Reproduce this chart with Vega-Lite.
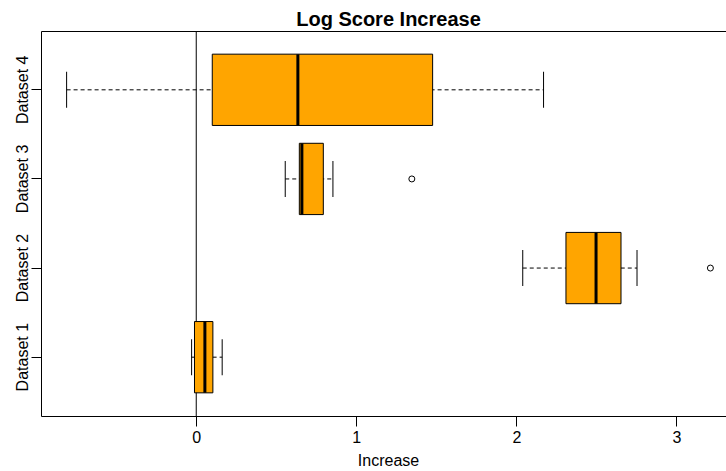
{
  "$schema": "https://vega.github.io/schema/vega-lite/v6.json",
  "width": 685,
  "height": 385,
  "autosize": {"type": "none"},
  "padding": {"left": 41, "top": 31, "right": 0, "bottom": 55},
  "background": "white",
  "title": {
    "text": "Log Score Increase",
    "font": "Liberation Sans",
    "fontSize": 20,
    "fontWeight": "bold",
    "color": "black",
    "anchor": "middle",
    "baseline": "alphabetic",
    "dx": 5,
    "dy": 20,
    "offset": 5
  },
  "datasets": {
    "boxes": [
      {"dataset": "Dataset 1", "lower": -0.029, "q1": -0.011, "median": 0.054, "q3": 0.104, "upper": 0.162},
      {"dataset": "Dataset 2", "lower": 2.04, "q1": 2.31, "median": 2.498, "q3": 2.654, "upper": 2.754},
      {"dataset": "Dataset 3", "lower": 0.556, "q1": 0.644, "median": 0.66, "q3": 0.794, "upper": 0.854},
      {"dataset": "Dataset 4", "lower": -0.81, "q1": 0.1, "median": 0.635, "q3": 1.477, "upper": 2.17}
    ],
    "outliers": [
      {"dataset": "Dataset 2", "value": 3.2125},
      {"dataset": "Dataset 3", "value": 1.347}
    ],
    "reference": [{"ref": 0}]
  },
  "layer": [
    {
      "data": {"name": "reference"},
      "mark": {"type": "rule", "color": "black", "strokeWidth": 1},
      "encoding": {
        "x": {
          "field": "ref",
          "type": "quantitative",
          "scale": {"domain": [-0.97, 3.31], "nice": false, "zero": false},
          "axis": {"orient": "top", "labels": false, "ticks": false, "domain": true, "domainColor": "black", "domainWidth": 1, "title": null, "grid": false}
        }
      }
    },
    {
      "data": {"name": "boxes"},
      "mark": {"type": "rule", "color": "black", "strokeWidth": 1, "strokeDash": [4, 3]},
      "encoding": {
        "y": {
          "field": "dataset",
          "type": "nominal",
          "sort": ["Dataset 4", "Dataset 3", "Dataset 2", "Dataset 1"],
          "scale": {"paddingInner": 0.2, "paddingOuter": 0.26},
          "axis": {
            "title": null,
            "labelAngle": 270,
            "labelAlign": "center",
            "labelBaseline": "alphabetic",
            "labelPadding": 4,
            "labelFont": "Liberation Sans",
            "labelFontSize": 16,
            "labelColor": "black",
            "tickSize": 10,
            "tickColor": "black",
            "domainColor": "black",
            "bandPosition": 0.5,
            "grid": false
          }
        },
        "x": {"field": "lower", "type": "quantitative", "axis": null},
        "x2": {"field": "upper"}
      }
    },
    {
      "data": {"name": "boxes"},
      "mark": {"type": "tick", "color": "black", "thickness": 1, "size": 36},
      "encoding": {
        "y": {"field": "dataset", "type": "nominal", "sort": ["Dataset 4", "Dataset 3", "Dataset 2", "Dataset 1"]},
        "x": {"field": "lower", "type": "quantitative", "axis": null}
      }
    },
    {
      "data": {"name": "boxes"},
      "mark": {"type": "tick", "color": "black", "thickness": 1, "size": 36},
      "encoding": {
        "y": {"field": "dataset", "type": "nominal", "sort": ["Dataset 4", "Dataset 3", "Dataset 2", "Dataset 1"]},
        "x": {"field": "upper", "type": "quantitative", "axis": null}
      }
    },
    {
      "data": {"name": "boxes"},
      "mark": {"type": "bar", "fill": "#FFA500", "stroke": "black", "strokeWidth": 1},
      "encoding": {
        "y": {"field": "dataset", "type": "nominal", "sort": ["Dataset 4", "Dataset 3", "Dataset 2", "Dataset 1"]},
        "x": {
          "field": "q1",
          "type": "quantitative",
          "axis": {
            "orient": "bottom",
            "values": [0, 1, 2, 3],
            "tickSize": 10,
            "tickColor": "black",
            "domainColor": "black",
            "labelFont": "Liberation Sans",
            "labelFontSize": 16,
            "labelColor": "black",
            "labelPadding": 3,
            "labelFlush": false,
            "grid": false,
            "title": "Increase",
            "titleFont": "Liberation Sans",
            "titleFontSize": 16,
            "titleFontWeight": "normal",
            "titleColor": "black",
            "titleAlign": "center",
            "titleBaseline": "alphabetic",
            "titleX": 347,
            "titleY": 49
          }
        },
        "x2": {"field": "q3"}
      }
    },
    {
      "data": {"name": "boxes"},
      "mark": {"type": "tick", "color": "black", "thickness": 3, "size": 71, "opacity": 1},
      "encoding": {
        "y": {"field": "dataset", "type": "nominal", "sort": ["Dataset 4", "Dataset 3", "Dataset 2", "Dataset 1"]},
        "x": {"field": "median", "type": "quantitative", "axis": null}
      }
    },
    {
      "data": {"name": "outliers"},
      "mark": {"type": "point", "shape": "circle", "filled": false, "stroke": "black", "strokeWidth": 1, "size": 36, "opacity": 1},
      "encoding": {
        "y": {"field": "dataset", "type": "nominal", "sort": ["Dataset 4", "Dataset 3", "Dataset 2", "Dataset 1"]},
        "x": {"field": "value", "type": "quantitative", "axis": null}
      }
    }
  ],
  "resolve": {"axis": {"x": "independent"}},
  "config": {
    "view": {"stroke": null},
    "axis": {"grid": false},
    "tick": {"opacity": 1}
  }
}
